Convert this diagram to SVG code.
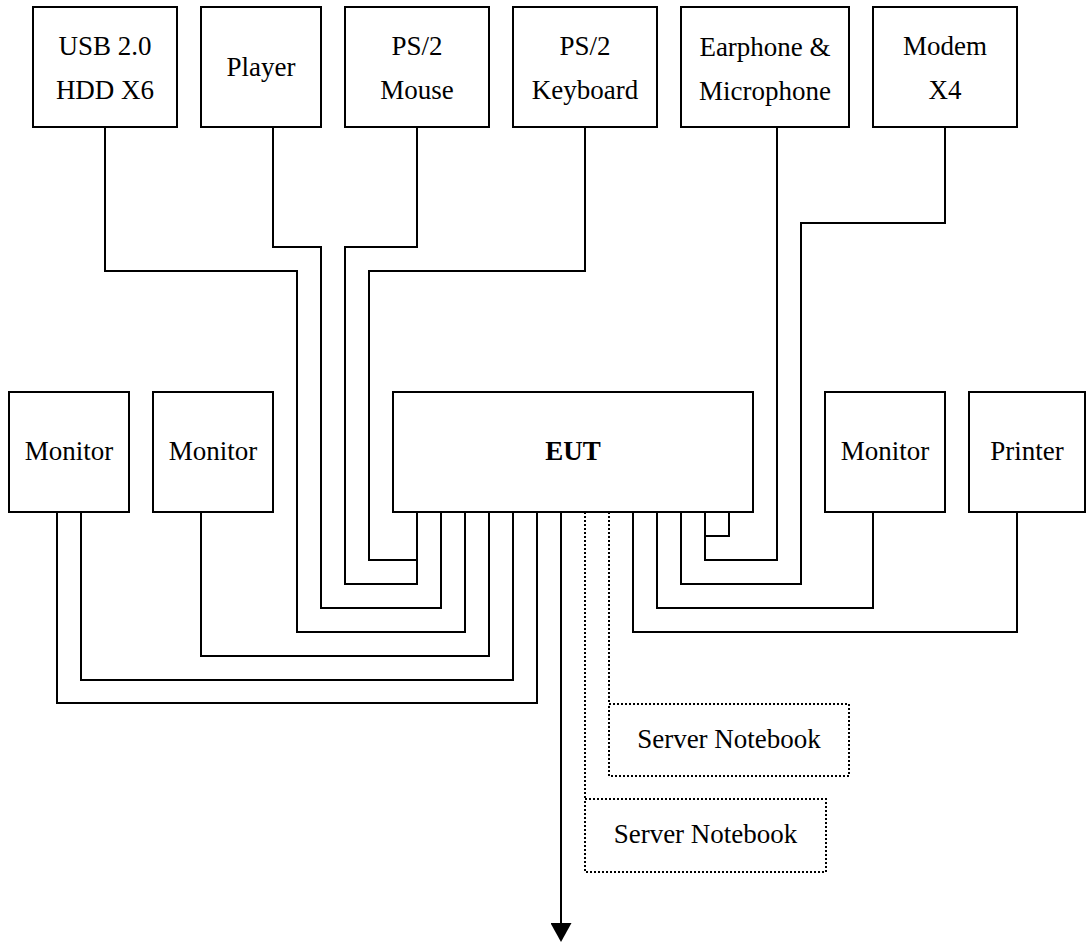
<svg xmlns="http://www.w3.org/2000/svg" width="1086" height="944" viewBox="0 0 1086 944">
<style>
.box{fill:#fff;stroke:#000;stroke-width:2}
.dbox{fill:#fff;stroke:#000;stroke-width:2;stroke-dasharray:2 2}
.t{font-family:"Liberation Serif","Times New Roman",serif;font-size:27px;text-anchor:middle;fill:#000}
.b{font-weight:bold}
.w{fill:none;stroke:#000;stroke-width:2}
.d{fill:none;stroke:#000;stroke-width:2;stroke-dasharray:2 2}
</style>
<defs>
<marker id="arr" markerUnits="userSpaceOnUse" markerWidth="19" markerHeight="21" viewBox="0 0 19 21" refX="0" refY="10.5" orient="auto">
<path d="M0,0 L19,10.5 L0,21 z" fill="#000"/>
</marker>
</defs>
<rect width="1086" height="944" fill="#fff"/>
<g id="connectors">
<path class="w" d="M105,127 V271 H297 V632 H465 V512"/>
<path class="w" d="M273,127 V247 H321 V608 H441 V512"/>
<path class="w" d="M417,127 V247 H345 V584 H417 V512"/>
<path class="w" d="M585,127 V271 H369 V560 H417"/>
<path class="w" d="M777,127 V560 H705 V512"/>
<path class="w" d="M729,512 V536 H705"/>
<path class="w" d="M945,127 V223 H801 V584 H681 V512"/>
<path class="w" d="M57,512 V703 H537 V512"/>
<path class="w" d="M81,512 V680 H513 V512"/>
<path class="w" d="M201,512 V656 H489 V512"/>
<path class="w" d="M873,512 V608 H657 V512"/>
<path class="w" d="M1017,512 V632 H633 V512"/>
<path class="w" d="M561,512 V923" marker-end="url(#arr)"/>
<path class="d" d="M585,512 V799"/>
<path class="d" d="M609,512 V704"/>
</g>
<g id="usb"><rect class="box" x="33" y="7" width="144" height="120"/><text class="t" x="105" y="55">USB 2.0</text><text class="t" x="105" y="99">HDD X6</text></g>
<g id="player"><rect class="box" x="201" y="7" width="120" height="120"/><text class="t" x="261" y="76">Player</text></g>
<g id="mouse"><rect class="box" x="345" y="7" width="144" height="120"/><text class="t" x="417" y="55">PS/2</text><text class="t" x="417" y="99">Mouse</text></g>
<g id="keyboard"><rect class="box" x="513" y="7" width="144" height="120"/><text class="t" x="585" y="55">PS/2</text><text class="t" x="585" y="99">Keyboard</text></g>
<g id="earphone"><rect class="box" x="681" y="7" width="168" height="120"/><text class="t" x="765" y="56">Earphone &amp;</text><text class="t" x="765" y="100">Microphone</text></g>
<g id="modem"><rect class="box" x="873" y="7" width="144" height="120"/><text class="t" x="945" y="55">Modem</text><text class="t" x="945" y="99">X4</text></g>
<g id="monitor1"><rect class="box" x="9" y="392" width="120" height="120"/><text class="t" x="69" y="460">Monitor</text></g>
<g id="monitor2"><rect class="box" x="153" y="392" width="120" height="120"/><text class="t" x="213" y="460">Monitor</text></g>
<g id="eut"><rect class="box" x="393" y="392" width="360" height="120"/><text class="t b" x="573" y="460">EUT</text></g>
<g id="monitor3"><rect class="box" x="825" y="392" width="120" height="120"/><text class="t" x="885" y="460">Monitor</text></g>
<g id="printer"><rect class="box" x="969" y="392" width="116" height="120"/><text class="t" x="1027" y="460">Printer</text></g>
<g id="server1"><rect class="dbox" x="609" y="704" width="240" height="72"/><text class="t" x="729" y="748">Server Notebook</text></g>
<g id="server2"><rect class="dbox" x="585" y="799" width="241" height="73"/><text class="t" x="705.5" y="843">Server Notebook</text></g>
</svg>
